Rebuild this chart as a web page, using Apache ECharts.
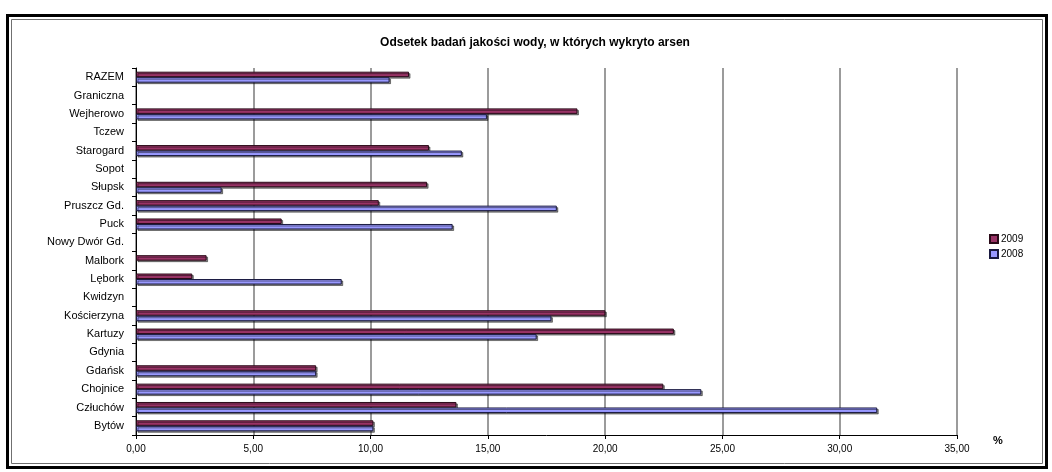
<!DOCTYPE html>
<html>
<head>
<meta charset="utf-8">
<script src="https://cdn.jsdelivr.net/npm/echarts@6/dist/echarts.min.js"></script>
<style>
html,body{margin:0;padding:0;background:#fff;}
#c{width:1052px;height:472px;}
</style>
</head>
<body>
<div id="c"></div>
<script>
// Categories listed bottom-to-top (as drawn on the category axis)
var categories = ['Bytów','Człuchów','Chojnice','Gdańsk','Gdynia','Kartuzy','Kościerzyna','Kwidzyn','Lębork','Malbork','Nowy Dwór Gd.','Puck','Pruszcz Gd.','Słupsk','Sopot','Starogard','Tczew','Wejherowo','Graniczna','RAZEM'];
var values2009 = [10.12, 13.66, 22.48, 7.68, null, 22.93, 20.01, null, 2.40, 3.01, null, 6.21, 10.35, 12.41, null, 12.49, null, 18.82, null, 11.64];
var values2008 = [10.12, 31.60, 24.10, 7.68, null, 17.08, 17.71, null, 8.77, null, null, 13.50, 17.94, 3.65, null, 13.89, null, 14.96, null, 10.81];
var xTickLabels = ['0,00','5,00','10,00','15,00','20,00','25,00','30,00','35,00'];
var seriesNames = ['2009','2008'];
var titleText = 'Odsetek badań jakości wody, w których wykryto arsen';

var chart = echarts.init(document.getElementById('c'), null, {renderer:'canvas'});
var font = 'Liberation Sans, Arial, sans-serif';
var shadow = {shadowColor:'rgba(0,0,0,0.45)', shadowOffsetX:1.5, shadowOffsetY:1.5, shadowBlur:0};

chart.setOption({
  animation:false,
  backgroundColor:'#fff',
  textStyle:{fontFamily:font},
  title:{
    text:titleText,
    left:530, top:32, textAlign:'center',
    textStyle:{fontFamily:font, fontSize:12, fontWeight:'bold', color:'#000'}
  },
  legend:{
    data:seriesNames,
    orient:'vertical',
    left:984, top:229,
    itemWidth:8, itemHeight:8, itemGap:5,
    icon:'rect',
    textStyle:{fontFamily:font, fontSize:10, color:'#000', padding:[0,0,0,-2]}
  },
  grid:{left:136, right:95, top:68, bottom:37, containLabel:false},
  xAxis:{
    type:'value', min:0, max:35, interval:5,
    name:'%', nameLocation:'end', nameGap:36,
    nameTextStyle:{fontFamily:font, fontSize:11, fontWeight:'bold', color:'#000', padding:[0,0,0,0], verticalAlign:'top', lineHeight:12},
    axisLine:{show:true, lineStyle:{color:'#000', width:1}},
    axisTick:{show:true, length:4, lineStyle:{color:'#000'}},
    axisLabel:{fontFamily:font, fontSize:10, color:'#000', margin:9,
      formatter:function(v){ return xTickLabels[Math.round(v/5)]; }},
    splitLine:{show:true, lineStyle:{color:'#7a7a7a', width:1.5}}
  },
  yAxis:{
    type:'category', data:categories,
    axisLine:{show:true, lineStyle:{color:'#000', width:1}},
    axisTick:{show:true, length:4, inside:false, lineStyle:{color:'#000'}},
    axisLabel:{fontFamily:font, fontSize:11, color:'#000', margin:12},
    splitLine:{show:false}
  },
  series:[
    {
      name:'2009', type:'bar', data:values2009,
      barWidth:5.5, barGap:'0%',
      itemStyle:Object.assign({color:'#993366', borderColor:'#2a0a18', borderWidth:1}, shadow)
    },
    {
      name:'2008', type:'bar', data:values2008,
      barWidth:5.5, barGap:'0%',
      itemStyle:Object.assign({color:'#9999ff', borderColor:'#1a1a40', borderWidth:1}, shadow)
    }
  ],
  graphic:[
    {type:'rect', shape:{x:7.5, y:15.5, width:1039, height:452}, style:{fill:'none', stroke:'#000', lineWidth:3}, silent:true},
    {type:'rect', shape:{x:11.5, y:19.5, width:1031, height:444}, style:{fill:'none', stroke:'#707070', lineWidth:1}, silent:true}
  ]
});
</script>
</body>
</html>
